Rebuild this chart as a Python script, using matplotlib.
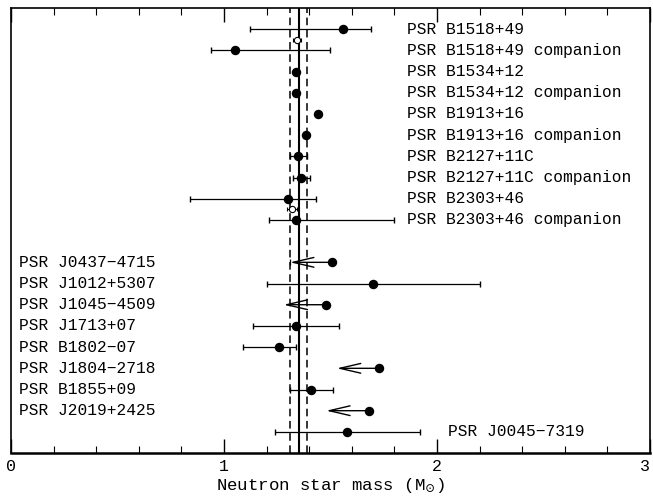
import numpy as np
import matplotlib
matplotlib.use('Agg')
from matplotlib import pyplot as plt
from matplotlib.ticker import MultipleLocator

plt.rcParams['font.family'] = ['Liberation Mono', 'DejaVu Sans']
plt.rcParams['mathtext.fontset'] = 'dejavuserif'

# double neutron star binaries (upper block)
names_dns = ['PSR B1518+49', 'PSR B1518+49 companion', 'PSR B1534+12',
             'PSR B1534+12 companion', 'PSR B1913+16', 'PSR B1913+16 companion',
             'PSR B2127+11C', 'PSR B2127+11C companion', 'PSR B2303+46',
             'PSR B2303+46 companion']
mass_dns = [1.56, 1.05, 1.338, 1.338, 1.441, 1.387, 1.349, 1.363, 1.30, 1.34]
lo_dns = [0.44, 0.11, 0, 0, 0, 0, 0.040, 0.040, 0.46, 0.13]
hi_dns = [0.13, 0.45, 0, 0, 0, 0, 0.040, 0.040, 0.13, 0.46]

# mean masses (open symbols) for B1518+49 and B2303+46
mean_mass = [1.343, 1.32]
mean_err = [0.02, 0.025]
mean_y = [20.5, 12.5]

# neutron star - white dwarf binaries etc. (lower block)
names_ns = ['PSR J0437\u22124715', 'PSR J1012+5307', 'PSR J1045\u22124509',
            'PSR J1713+07', 'PSR B1802\u221207', 'PSR J1804\u22122718',
            'PSR B1855+09', 'PSR J2019+2425']
mass_ns = [1.509, 1.70, 1.479, 1.338, 1.26, 1.729, 1.41, 1.679]
lo_ns = [0, 0.50, 0, 0.20, 0.17, 0, 0.10, 0]
hi_ns = [0, 0.50, 0, 0.20, 0.08, 0, 0.10, 0]
limit_to = [1.31, None, 1.28, None, None, 1.53, None, 1.48]   # upper limits, arrow end

name_smc = 'PSR J0045\u22127319'
mass_smc = 1.58
err_smc = 0.34

m_canon = 1.35
m_width = 0.04

xticks = [0, 1, 2, 3]

fig = plt.figure(figsize=(6.53, 4.99), dpi=100)
ax = fig.add_axes([0.0168, 0.092, 0.9785, 0.892])

y_dns = np.arange(21, 11, -1)
y_ns = np.arange(10, 2, -1)
y_smc = 2

ax.axvline(m_canon, color='k', lw=1.5)
ax.axvline(m_canon - m_width, color='k', lw=1.1, ls=(0, (5, 3)))
ax.axvline(m_canon + m_width, color='k', lw=1.1, ls=(0, (5, 3)))

# upper block
for y, m, lo, hi, nm in zip(y_dns, mass_dns, lo_dns, hi_dns, names_dns):
    if lo > 0 or hi > 0:
        ax.errorbar(m, y, xerr=[[lo], [hi]], fmt='none', ecolor='k', elinewidth=0.9, capsize=2.5)
    ax.plot(m, y, 'o', color='k', ms=5.8)
    ax.text(1.86, y, nm, fontsize=11.7, va='center', ha='left')

for m, e, y in zip(mean_mass, mean_err, mean_y):
    ax.errorbar(m, y, xerr=e, fmt='o', mfc='white', mec='k', ms=4.5, mew=0.8,
                ecolor='k', elinewidth=0.8, capsize=1.5)

# lower block
for y, m, lo, hi, lim, nm in zip(y_ns, mass_ns, lo_ns, hi_ns, limit_to, names_ns):
    if lo > 0 or hi > 0:
        ax.errorbar(m, y, xerr=[[lo], [hi]], fmt='none', ecolor='k', elinewidth=0.9, capsize=2.5)
    if lim is not None:
        ax.annotate('', xy=(lim, y), xytext=(m, y),
                    arrowprops=dict(arrowstyle='->, head_length=1.5, head_width=0.35',
                                    lw=1.0, color='k', mutation_scale=10,
                                    shrinkA=0, shrinkB=0))
    ax.plot(m, y, 'o', color='k', ms=5.8)
    ax.text(0.04, y, nm, fontsize=11.7, va='center', ha='left')

# J0437 lower bar
ax.plot(limit_to[0], y_ns[0], '|', color='k', ms=5, mew=0.9)

ax.errorbar(mass_smc, y_smc, xerr=err_smc, fmt='o', color='k', ms=5.8,
            elinewidth=0.9, capsize=2.5)
ax.text(2.05, y_smc, name_smc, fontsize=11.7, va='center', ha='left')

ax.set_xlim(0, 3)
ax.set_ylim(1, 22)
ax.set_yticks([])
ax.set_xticks(xticks)
ax.set_xticklabels([str(t) for t in xticks])
ax.get_xticklabels()[-1].set_horizontalalignment('right')
ax.xaxis.set_minor_locator(MultipleLocator(0.2))
ax.tick_params(axis='x', which='both', direction='in', top=True, labelsize=12, pad=4)
ax.tick_params(axis='x', which='major', length=10, width=1)
ax.tick_params(axis='x', which='minor', length=5, width=0.8)
for s in ax.spines.values():
    s.set_linewidth(1.2)
ax.spines['bottom'].set_linewidth(1.8)

ax.set_xlabel(r'Neutron star mass (M$_{\odot}$)', fontsize=12.5, labelpad=2)

plt.savefig('out.png', dpi=100)
